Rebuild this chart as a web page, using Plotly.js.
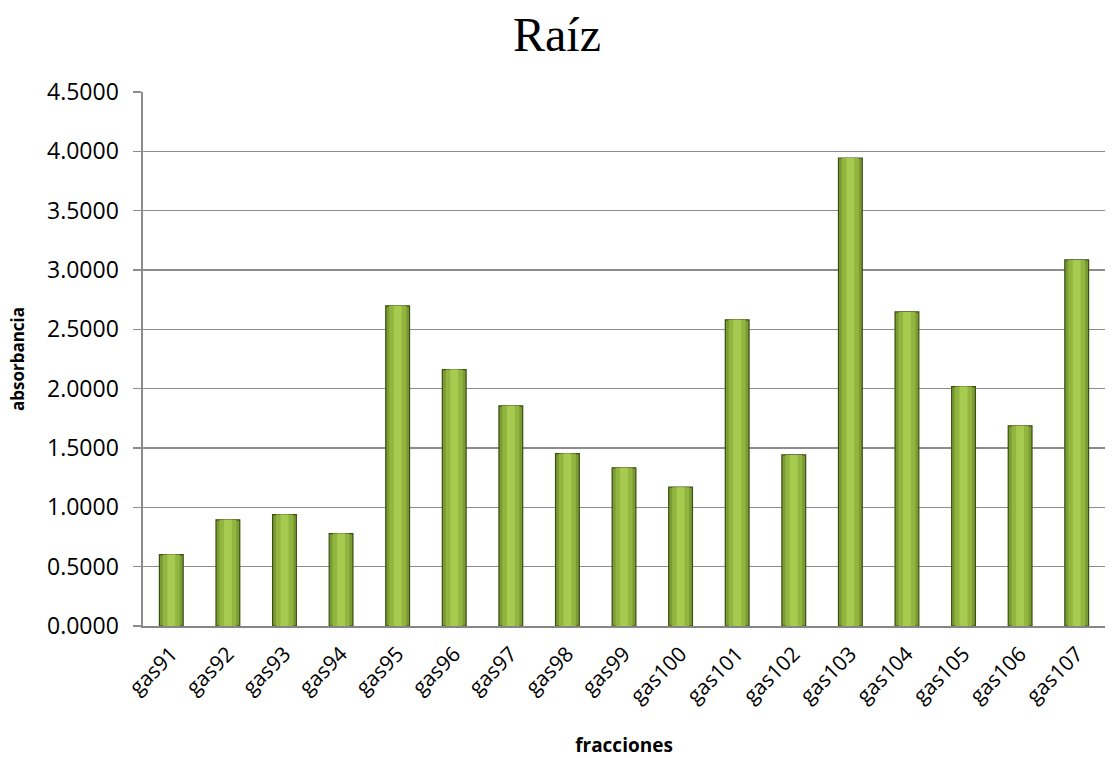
<!DOCTYPE html>
<html>
<head>
<meta charset="utf-8">
<script src="https://cdn.plot.ly/plotly-3.0.1.min.js"></script>
<style>html,body{margin:0;padding:0;background:#fff;}#chart{width:1114px;height:758px;}</style>
</head>
<body>
<div id="chart"></div>
<script>
const categories = ["gas91","gas92","gas93","gas94","gas95","gas96","gas97","gas98","gas99","gas100","gas101","gas102","gas103","gas104","gas105","gas106","gas107"];
const absorbancia = [0.602,0.895,0.939,0.779,2.698,2.161,1.855,1.453,1.333,1.170,2.580,1.442,3.944,2.647,2.018,1.687,3.085];
const yTicks = [0,0.5,1,1.5,2,2.5,3,3.5,4,4.5];

const base = {x: categories, y: absorbancia, type: 'bar', hoverinfo: 'skip', showlegend: false};
const traces = [
  Object.assign({}, base, {width: 0.42, marker: {color: '#7b9b33', line: {color: '#3a4d12', width: 1.2}}}),
  Object.assign({}, base, {width: 0.30, marker: {color: '#91b53f', line: {width: 0}}}),
  Object.assign({}, base, {width: 0.14, marker: {color: '#a6cb50', line: {width: 0}}})
];

const layout = {
  width: 1114, height: 758,
  margin: {l: 143, r: 9, t: 92, b: 132},
  paper_bgcolor: '#ffffff', plot_bgcolor: '#ffffff',
  barmode: 'overlay',
  title: {text: 'Raíz', x: 0.5, xref: 'container', y: 0.955, yref: 'container', yanchor: 'middle',
          font: {family: 'Liberation Serif', size: 48, color: '#000'}},
  xaxis: {
    type: 'category', tickangle: -45, showgrid: false,
    showline: true, linecolor: '#868686', linewidth: 1.5, ticks: '',
    ticklabelstandoff: 6,
    tickfont: {family: 'Open Sans', size: 21, color: '#000'},
    title: {text: 'fracciones', font: {family: 'Open Sans', size: 19, color: '#000', weight: 'bold'}, standoff: 34}
  },
  yaxis: {
    range: [0, 4.5], tickvals: yTicks, tickformat: '.4f',
    showgrid: true, gridcolor: '#8c8c8c', gridwidth: 1.6,
    showline: true, linecolor: '#8c8c8c', linewidth: 1.6,
    ticks: 'outside', ticklen: 8, tickcolor: '#8c8c8c', tickwidth: 1.5,
    ticklabelstandoff: 10,
    tickfont: {family: 'Open Sans', size: 23, color: '#000'},
    zeroline: false,
    title: {text: 'absorbancia', font: {family: 'Open Sans', size: 17, color: '#000', weight: 'bold'}, standoff: 18}
  }
};

Plotly.newPlot('chart', traces, layout, {displayModeBar: false, staticPlot: true});
</script>
</body>
</html>
